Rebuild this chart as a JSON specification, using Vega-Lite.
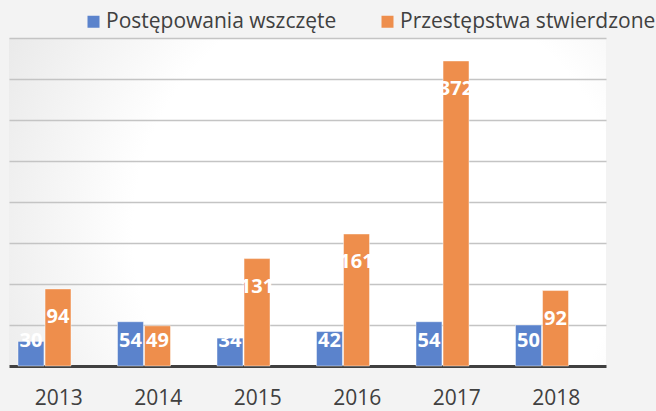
{
  "$schema": "https://vega.github.io/schema/vega-lite/v6.json",
  "width": 597,
  "height": 328,
  "autosize": {"type": "none"},
  "padding": {"left": 9, "top": 38, "right": 50, "bottom": 45},
  "background": "#f3f3f3",
  "view": {
    "stroke": null,
    "fill": {
      "gradient": "radial",
      "x1": 0.62, "y1": 0.55, "r1": 0,
      "x2": 0.62, "y2": 0.55, "r2": 0.75,
      "stops": [
        {"offset": 0, "color": "#ffffff"},
        {"offset": 0.55, "color": "#ffffff"},
        {"offset": 1, "color": "#e6e6e6"}
      ]
    }
  },
  "config": {"font": "Open Sans"},
  "data": {
    "values": [
      {"year": "2013", "series": "Postępowania wszczęte", "value": 30},
      {"year": "2013", "series": "Przestępstwa stwierdzone", "value": 94},
      {"year": "2014", "series": "Postępowania wszczęte", "value": 54},
      {"year": "2014", "series": "Przestępstwa stwierdzone", "value": 49},
      {"year": "2015", "series": "Postępowania wszczęte", "value": 34},
      {"year": "2015", "series": "Przestępstwa stwierdzone", "value": 131},
      {"year": "2016", "series": "Postępowania wszczęte", "value": 42},
      {"year": "2016", "series": "Przestępstwa stwierdzone", "value": 161},
      {"year": "2017", "series": "Postępowania wszczęte", "value": 54},
      {"year": "2017", "series": "Przestępstwa stwierdzone", "value": 372},
      {"year": "2018", "series": "Postępowania wszczęte", "value": 50},
      {"year": "2018", "series": "Przestępstwa stwierdzone", "value": 92}
    ]
  },
  "encoding": {
    "x": {
      "field": "year",
      "type": "nominal",
      "scale": {"paddingInner": 0, "paddingOuter": 0},
      "axis": {
        "title": null,
        "labelAngle": 0,
        "ticks": false,
        "domainColor": "#404040",
        "domainWidth": 3,
        "labelFontSize": 21,
        "labelColor": "#404040",
        "labelPadding": 21
      }
    },
    "xOffset": {
      "field": "series",
      "scale": {"range": [9, 62], "paddingInner": 0.04, "paddingOuter": 0}
    }
  },
  "layer": [
    {
      "mark": {"type": "bar", "stroke": "#ffffff", "strokeOpacity": 0.45, "strokeWidth": 1},
      "encoding": {
        "y": {
          "field": "value",
          "type": "quantitative",
          "scale": {"domain": [0, 400], "nice": false},
          "axis": {
            "title": null,
            "labels": false,
            "ticks": false,
            "domain": false,
            "grid": true,
            "gridColor": "#c4c4c4",
            "gridWidth": 1.5,
            "values": [50, 100, 150, 200, 250, 300, 350, 400]
          }
        },
        "color": {
          "field": "series",
          "type": "nominal",
          "scale": {
            "domain": ["Postępowania wszczęte", "Przestępstwa stwierdzone"],
            "range": ["#5b83cc", "#ee8e4c"]
          },
          "legend": {
            "title": null,
            "orient": "none",
            "legendX": 74,
            "legendY": -27,
            "direction": "horizontal",
            "symbolType": "square",
            "symbolSize": 144,
            "symbolStrokeWidth": 0,
            "symbolOpacity": 1,
            "labelFontSize": 21,
            "labelColor": "#404040",
            "labelOffset": 2,
            "labelLimit": 500,
            "columnPadding": 40
          }
        }
      }
    },
    {
      "transform": [{"filter": "datum.value >= 60"}],
      "mark": {"type": "text", "dy": 28, "baseline": "middle", "align": "center", "fontSize": 20, "fontWeight": "bold", "color": "#ffffff"},
      "encoding": {
        "y": {"field": "value", "type": "quantitative"},
        "text": {"field": "value", "type": "quantitative"}
      }
    },
    {
      "transform": [{"filter": "datum.value < 60"}],
      "mark": {"type": "text", "baseline": "middle", "align": "center", "fontSize": 20, "fontWeight": "bold", "color": "#ffffff"},
      "encoding": {
        "y": {"datum": 30.5, "type": "quantitative"},
        "text": {"field": "value", "type": "quantitative"}
      }
    }
  ]
}
